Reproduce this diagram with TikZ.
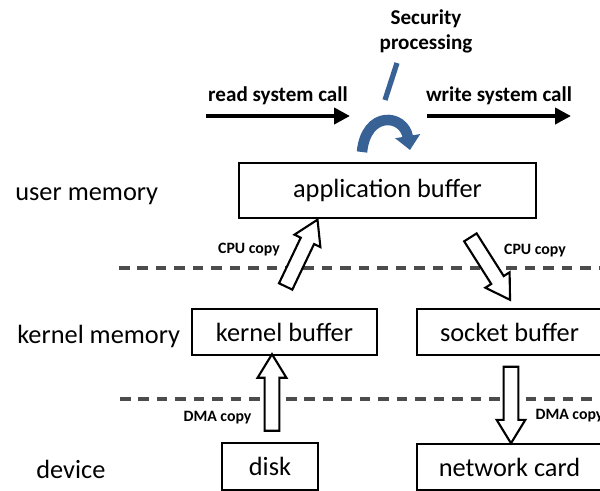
\documentclass[tikz,border=0pt]{standalone}
\usepackage{fontspec}
\setmainfont{Carlito}
\usetikzlibrary{arrows.meta,shapes.arrows}
\definecolor{secblue}{RGB}{56,98,150}

\begin{document}
\begin{tikzpicture}[x=0.02cm,y=-0.02cm,
    buf/.style={draw,line width=1.5pt,inner sep=0pt,font=\fontsize{15}{18}\selectfont},
    lvl/.style={anchor=base west,inner sep=0pt,font=\fontsize{15}{18}\selectfont},
    cp/.style={anchor=base,inner sep=0pt,font=\fontsize{9}{11}\selectfont\bfseries},
    sep/.style={dash pattern=on 6pt off 4.5pt,line width=2pt,black!70},
    fat/.style={single arrow,draw,fill=white,line width=1.2pt,inner xsep=0pt,inner ysep=3.6pt,
      single arrow head extend=0.14cm,single arrow tip angle=63},
    syscall/.style={line width=2.3pt,-{Triangle[length=9pt,width=9pt]}}]
  \useasboundingbox (0,0) rectangle (600,491);
  % levels
  \node[lvl] (um) at (15,200) {user memory};
  \node[lvl] (km) at (17,343) {kernel memory};
  \node[lvl] (dev) at (36,478) {device};
  \draw[sep] (119,268) -- (602,268);
  \draw[sep] (120,399) -- (602,399);
  % buffers
  \node[buf,minimum width=5.94cm,minimum height=1.1cm] (ab) at (387.5,190.5) {application buffer};
  \node[buf,minimum width=3.7cm,minimum height=0.92cm] (kb) at (284.5,332) {kernel buffer};
  \node[buf,minimum width=3.7cm,minimum height=0.92cm] (sb) at (509.5,332) {socket buffer};
  \node[buf,minimum width=1.92cm,minimum height=0.94cm] (disk) at (270,466.5) {disk};
  \node[buf,minimum width=3.7cm,minimum height=0.92cm] (nc) at (509.5,467) {network card};
  % copies
  \node[fat,minimum height=1.48cm,rotate=64.5] (cpuin) at (299,258.5) {};
  \node[fat,minimum height=1.48cm,rotate=-57.6] (cpuout) at (487,263.5) {};
  \node[fat,minimum height=1.53cm,rotate=90] (dmain) at (272,398.5) {};
  \node[fat,minimum height=1.53cm,rotate=-90] (dmaout) at (511,399) {};
  \node[cp] at (249,253) {CPU copy};
  \node[cp] at (535,254) {CPU copy};
  \node[cp] at (217.5,421) {DMA copy};
  \node[cp] at (569.5,419) {DMA copy};
  % system calls
  \coordinate (rd) at (206,116);
  \coordinate (rdend) at (350,116);
  \coordinate (wr) at (427,116);
  \coordinate (wrend) at (571,116);
  \path[syscall] (rd) edge node[above=2pt,font=\fontsize{12}{14.5}\selectfont\bfseries]{read system call} (rdend);
  \path[syscall] (wr) edge node[above=2pt,font=\fontsize{12}{14.5}\selectfont\bfseries]{write system call} (wrend);
  % security processing
  \node[align=center,inner sep=0pt,font=\fontsize{12}{14.2}\selectfont\bfseries] (sec) at (426,31) {Security\\processing};
  \coordinate (sl) at (397,63);
  \coordinate (slend) at (385,100);
  \coordinate (arcl) at (362,152);
  \coordinate (arcr) at (410,150);
  \draw[secblue,line width=3pt] (sl) -- (slend);
  \draw[secblue,line width=6pt,-{Triangle[length=8pt,width=14pt]}] (arcl) .. controls +(4,-42) and +(-6,-36) .. (arcr);
\end{tikzpicture}
\end{document}
